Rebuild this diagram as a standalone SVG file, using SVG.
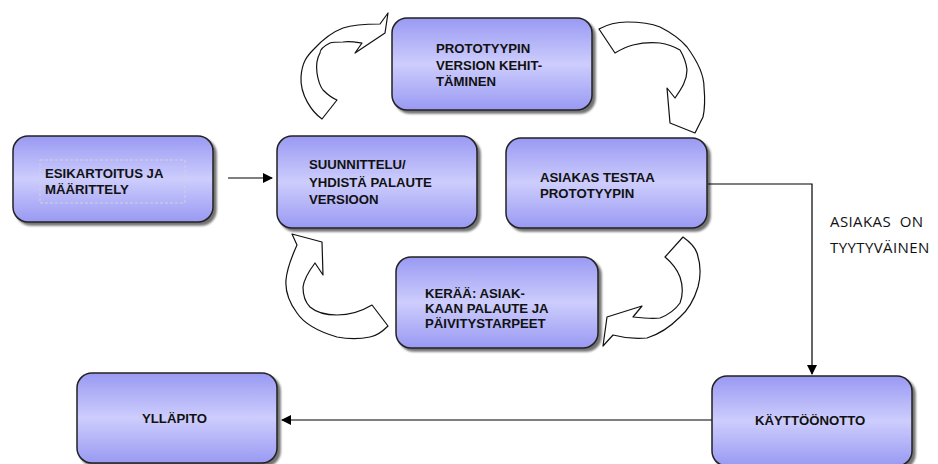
<svg xmlns="http://www.w3.org/2000/svg" width="938" height="464" viewBox="0 0 938 464">
<defs>
<linearGradient id="g" x1="0" y1="0" x2="0" y2="1">
<stop offset="0" stop-color="#9999f3"/>
<stop offset="0.5" stop-color="#cdcdfd"/>
<stop offset="1" stop-color="#9999f3"/>
</linearGradient>
<marker id="ah" markerWidth="10" markerHeight="10" refX="9" refY="5" orient="auto" markerUnits="userSpaceOnUse">
<path d="M0,0 L10,5 L0,10 Z" fill="#000"/>
</marker>
<filter id="sh" x="-10%" y="-10%" width="130%" height="130%">
<feDropShadow dx="3" dy="3" stdDeviation="1.2" flood-color="#000" flood-opacity="0.55"/>
</filter>
</defs>
<style>
.box{fill:url(#g);stroke:#222;stroke-width:1.5;filter:url(#sh)}
.t{font-family:"Liberation Sans",Arial,sans-serif;font-weight:bold;font-size:13.2px;fill:#111}
.lbl{font-family:"Open Sans","Noto Sans",sans-serif;font-size:15px;fill:#111;letter-spacing:0.4px}
.cv{fill:#fff;stroke:#111;stroke-width:1.2;stroke-linejoin:round}
.cn{fill:none;stroke:#000;stroke-width:1.2}
</style>

<g id="connectors">
<line class="cn" x1="228" y1="178" x2="272" y2="178" marker-end="url(#ah)"/>
<polyline class="cn" points="708,184 812,184 812,374" marker-end="url(#ah)"/>
<line class="cn" x1="712" y1="420" x2="282" y2="420" marker-end="url(#ah)"/>
<text class="lbl" x="830" y="227" xml:space="preserve">ASIAKAS  ON</text>
<text class="lbl" x="830" y="253">TYYTYVÄINEN</text>
<path class="cv" d="M322,119 C312,112 300,95 301,77 C302,62 307,56 314,49 C325,37 335,31 343,28 C355,24 368,24 380,24 L388,13 L385,33 L355,53 L362,43 C355,42 349,41 343,42 C337,42 333,42 330,43 C324,46 320,50 320,53 C316,60 316,66 317,73 C318,80 320,86 323,90 C328,95 332,98 337,100 Z"/>
<path class="cv" d="M599,29 C608,24 617,22 627,22 C640,22 650,23 660,27 C672,33 681,40 687,47 C698,62 704,75 704,87 C705,98 705,108 703,117 L695,133 L670,123 L667,88 L675,98 C682,88 687,80 687,70 C686,60 683,55 680,50 C673,46 667,44 660,43 C650,42 641,43 633,45 C625,47 620,50 615,53 Z"/>
<path class="cv" d="M388,326 C382,332 376,336 370,337 C360,339 348,339 337,337 C320,332 305,325 297,313 C289,302 285,292 286,280 C287,268 292,256 297,245 L292,234 L322,242 L323,275 L315,263 C309,271 304,279 303,287 C303,295 305,302 310,307 C317,313 326,315 337,315 C350,315 362,311 372,305 Z"/>
<path class="cv" d="M683,237 C690,242 695,247 697,253 C701,265 701,276 698,287 C694,300 688,310 680,317 C670,327 660,334 647,338 C636,339 624,338 613,335 L603,346 L607,317 L642,306 L633,317 C642,318 651,319 660,318 C668,315 675,310 680,303 C683,295 683,286 680,277 C677,269 671,262 665,257 Z"/>
</g>

<g id="esikartoitus">
<rect class="box" x="13" y="136" width="200" height="86" rx="15"/>
<rect x="40" y="160" width="145" height="43" fill="none" stroke="#d0d0e0" stroke-dasharray="3,2"/>
<text class="t" x="45" y="178">ESIKARTOITUS JA</text>
<text class="t" x="45" y="194">MÄÄRITTELY</text>
</g>

<g id="prototyypin">
<rect class="box" x="392" y="18" width="200" height="92" rx="15"/>
<text class="t" x="436" y="53">PROTOTYYPIN</text>
<text class="t" x="436" y="70">VERSION KEHIT-</text>
<text class="t" x="436" y="86">TÄMINEN</text>
</g>

<g id="suunnittelu">
<rect class="box" x="277" y="136" width="200" height="92" rx="15"/>
<text class="t" x="309" y="169">SUUNNITTELU/</text>
<text class="t" x="309" y="187">YHDISTÄ PALAUTE</text>
<text class="t" x="309" y="204">VERSIOON</text>
</g>

<g id="asiakas">
<rect class="box" x="506" y="138" width="201" height="90" rx="15"/>
<text class="t" x="540" y="182">ASIAKAS TESTAA</text>
<text class="t" x="540" y="198">PROTOTYYPIN</text>
</g>

<g id="keraa">
<rect class="box" x="396" y="257" width="202" height="91" rx="15"/>
<text class="t" x="425" y="298">KERÄÄ: ASIAK-</text>
<text class="t" x="425" y="313">KAAN PALAUTE JA</text>
<text class="t" x="425" y="328">PÄIVITYSTARPEET</text>
</g>

<g id="yllapito">
<rect class="box" x="77" y="373" width="200" height="90" rx="15"/>
<text class="t" x="142" y="423">YLLÄPITO</text>
</g>

<g id="kayttoonotto">
<rect class="box" x="712" y="376" width="200" height="90" rx="15"/>
<text class="t" x="755" y="425">KÄYTTÖÖNOTTO</text>
</g>
</svg>
